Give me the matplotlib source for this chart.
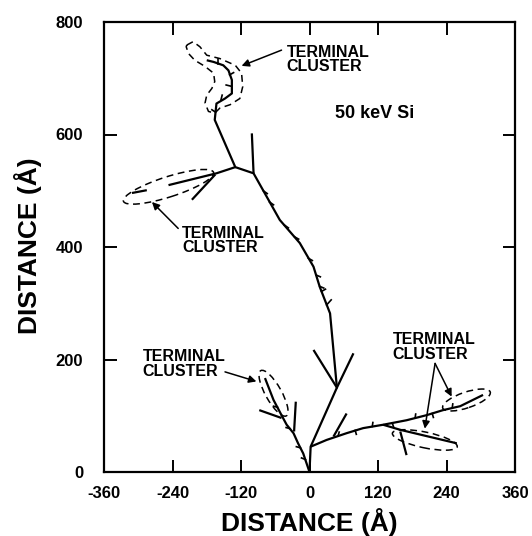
import matplotlib
matplotlib.use('Agg')
import matplotlib.pyplot as plt
from matplotlib.patches import Ellipse

plt.rcParams['font.family'] = ['Liberation Sans', 'DejaVu Sans']
plt.rcParams['font.weight'] = 'bold'
plt.rcParams['axes.unicode_minus'] = False

# cascade branches, distances in angstrom (x, y)
trunk_x = [0, 2, 48, 36, 18, 7, -17, -52, -98, -130, -166, -163, -148, -136, -136, -142, -151, -168, -180]
trunk_y = [0, 45, 150, 282, 329, 365, 407, 448, 531, 542, 626, 655, 664, 673, 697, 714, 723, 729, 732]

v_fork_x = [7, 48, 77]
v_fork_y = [217, 150, 211]

spur_up_x = [-98, -101]
spur_up_y = [531, 602]

left_branch_x = [-130, -163, -247]
left_branch_y = [542, 531, 510]
left_tail_x = [-285, -311]
left_tail_y = [501, 496]
left_spur_x = [-165, -206]
left_spur_y = [529, 484]

low_left_x = [0, -11, -20, -28, -40, -49, -63, -78]
low_left_y = [0, 33, 51, 69, 84, 101, 128, 167]
low_left_spur_x = [-24, -27]
low_left_spur_y = [125, 72]
low_left_arm_x = [-49, -88]
low_left_arm_y = [96, 110]

right_branch_x = [2, 30, 65, 94, 129, 170, 205, 234, 264, 304]
right_branch_y = [45, 57, 69, 78, 84, 92, 101, 110, 117, 137]
right_spur_x = [42, 65]
right_spur_y = [63, 104]
right_low_x = [129, 159, 258]
right_low_y = [84, 75, 51]
right_down_x = [159, 170]
right_down_y = [72, 30]

# small side barbs along the tracks: x, y, dx, dy
barbs = [(-70, 480, 7, -5), (-81, 500, 7, -5), (-44, 439, 7, -5), (-26, 418, 7, -4),
         (-2, 380, 7, -4), (12, 350, 7, -3), (18, 330, 7, -3), (21, 321, 7, 4),
         (30, 297, 8, 9),
         (-165, 640, -6, 4), (-155, 662, 2, 8), (-138, 686, -8, 2), (-140, 706, 7, 4),
         (-160, 726, 0, 8), (50, 64, 2, 7), (80, 74, 2, -7), (110, 81, 1, 7),
         (145, 87, 2, -6), (185, 96, 1, 7), (215, 104, 2, -7), (250, 114, 1, 7),
         (-7, 22, -7, 3), (-16, 43, -7, 2), (-34, 77, -7, 2), (-56, 115, -7, 2)]

# dashed outlines around the terminal clusters
top_loop_x = [-215, -204, -192, -180, -157, -130, -119, -117, -122, -139, -157, -166, -177,
              -183, -180, -171, -166, -168, -183, -201, -212, -216, -215]
top_loop_y = [759, 765, 756, 741, 735, 723, 709, 685, 664, 653, 647, 638, 641,
              656, 670, 682, 694, 709, 721, 732, 744, 756, 759]

# ellipses: centre x, centre y, width, height, angle
ellipses = [(-247, 507, 166, 36, 18),
            (-63, 140, 92, 28, -61),
            (202, 57, 116, 28, -12),
            (275, 128, 88, 28, 19)]

label = 'TERMINAL\nCLUSTER'
# text position (left, centre y) and arrows (from, to)
notes = [((-40, 733), [((-49, 750), (-119, 722))]),
         ((-223, 412), [((-230, 433), (-276, 480))]),
         ((-292, 192), [((-148, 178), (-93, 161))]),
         ((146, 222), [((220, 193), (249, 134)), ((220, 193), (202, 77))])]

fig = plt.figure(figsize=(5.32, 5.36), dpi=100)
ax = fig.add_axes([104 / 532, 1 - 472 / 536, 411 / 532, 450 / 536])

lw = 1.6
for xs, ys in [(trunk_x, trunk_y), (v_fork_x, v_fork_y), (spur_up_x, spur_up_y),
               (left_branch_x, left_branch_y), (left_tail_x, left_tail_y),
               (left_spur_x, left_spur_y), (low_left_x, low_left_y),
               (low_left_spur_x, low_left_spur_y), (low_left_arm_x, low_left_arm_y),
               (right_branch_x, right_branch_y), (right_spur_x, right_spur_y),
               (right_low_x, right_low_y), (right_down_x, right_down_y)]:
    ax.plot(xs, ys, color='k', lw=lw, solid_capstyle='butt')

for bx, by, dx, dy in barbs:
    ax.plot([bx, bx + dx], [by, by + dy], color='k', lw=1.2)

ax.plot(top_loop_x, top_loop_y, color='k', lw=1.1, ls=(0, (4.5, 3)))
for cx, cy, w, hgt, ang in ellipses:
    ax.add_patch(Ellipse((cx, cy), w, hgt, angle=ang, fill=False, ec='k',
                         lw=1.1, ls=(0, (4.5, 3))))

for (tx, ty), arrows in notes:
    ax.text(tx, ty, label, ha='left', va='center', fontsize=11.5,
            fontweight='bold', linespacing=0.95)
    for start, end in arrows:
        ax.annotate('', xy=end, xytext=start,
                    arrowprops=dict(arrowstyle='-|>', color='k', lw=1.1,
                                    mutation_scale=11, shrinkA=0, shrinkB=0))

ax.text(45, 638, '50 keV Si', ha='left', va='center', fontsize=13, fontweight='bold')

ax.set_xlim(-360, 360)
ax.set_ylim(0, 800)
ax.set_xticks(range(-360, 361, 120))
ax.set_yticks(range(0, 801, 200))
ax.tick_params(direction='in', top=True, right=True, length=9, width=1.4,
               labelsize=12)
ax.tick_params(axis='x', pad=10)
ax.tick_params(axis='y', pad=15)
for s in ax.spines.values():
    s.set_linewidth(1.6)

ax.set_xlabel('DISTANCE (Å)', fontsize=19, fontweight='bold')
ax.set_ylabel('DISTANCE (Å)', fontsize=19, fontweight='bold')
ax.xaxis.set_label_coords(0.5, -0.08)
ax.yaxis.set_label_coords(-0.15, 0.504)

fig.savefig('out.png', dpi=100)
